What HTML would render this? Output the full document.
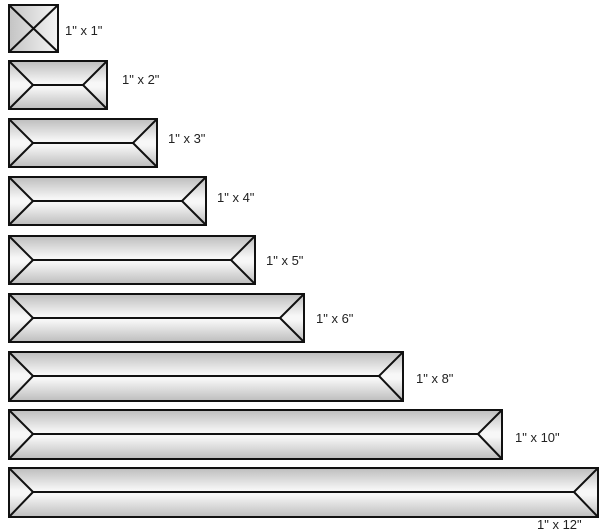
<!DOCTYPE html>
<html><head><meta charset="utf-8"><style>
html,body{margin:0;padding:0;background:#fff;width:600px;height:531px;overflow:hidden}
svg text{font-family:"Liberation Sans",Arial,sans-serif;font-size:13px;fill:#222}
</style></head><body>
<svg width="600" height="531" viewBox="0 0 600 531" xmlns="http://www.w3.org/2000/svg">
<defs>
<linearGradient id="g" x1="0" y1="0" x2="0" y2="1">
<stop offset="0" stop-color="#bdbdbd"/><stop offset="0.45" stop-color="#f7f7f7"/><stop offset="0.55" stop-color="#f7f7f7"/><stop offset="1" stop-color="#bdbdbd"/>
</linearGradient>
<linearGradient id="h" x1="0" y1="0" x2="1" y2="0">
<stop offset="0" stop-color="#c4c4c4"/><stop offset="1" stop-color="#f4f4f4"/>
</linearGradient>
</defs>
<g stroke="#111" stroke-width="2" fill="url(#g)">
<rect x="9" y="5" width="49" height="47" fill="url(#h)"/>
<path d="M9 5L58 52M58 5L9 52" fill="none"/>
<rect x="9" y="61" width="98" height="48"/><path d="M9 61L33 85L83 85L107 61M9 109L33 85M83 85L107 109" fill="none"/>
<rect x="9" y="119" width="148" height="48"/><path d="M9 119L33 143L133 143L157 119M9 167L33 143M133 143L157 167" fill="none"/>
<rect x="9" y="177" width="197" height="48"/><path d="M9 177L33 201L182 201L206 177M9 225L33 201M182 201L206 225" fill="none"/>
<rect x="9" y="236" width="246" height="48"/><path d="M9 236L33 260L231 260L255 236M9 284L33 260M231 260L255 284" fill="none"/>
<rect x="9" y="294" width="295" height="48"/><path d="M9 294L33 318L280 318L304 294M9 342L33 318M280 318L304 342" fill="none"/>
<rect x="9" y="352" width="394" height="49"/><path d="M9 352L33 376L379 376L403 352M9 401L33 376M379 376L403 401" fill="none"/>
<rect x="9" y="410" width="493" height="49"/><path d="M9 410L33 434L478 434L502 410M9 459L33 434M478 434L502 459" fill="none"/>
<rect x="9" y="468" width="589" height="49"/><path d="M9 468L33 492L574 492L598 468M9 517L33 492M574 492L598 517" fill="none"/>
</g>
<text x="65" y="35">1" x 1"</text>
<text x="122" y="84">1" x 2"</text>
<text x="168" y="143">1" x 3"</text>
<text x="217" y="202">1" x 4"</text>
<text x="266" y="265">1" x 5"</text>
<text x="316" y="323">1" x 6"</text>
<text x="416" y="383">1" x 8"</text>
<text x="515" y="442">1" x 10"</text>
<text x="537" y="529">1" x 12"</text>
</svg>
</body></html>
